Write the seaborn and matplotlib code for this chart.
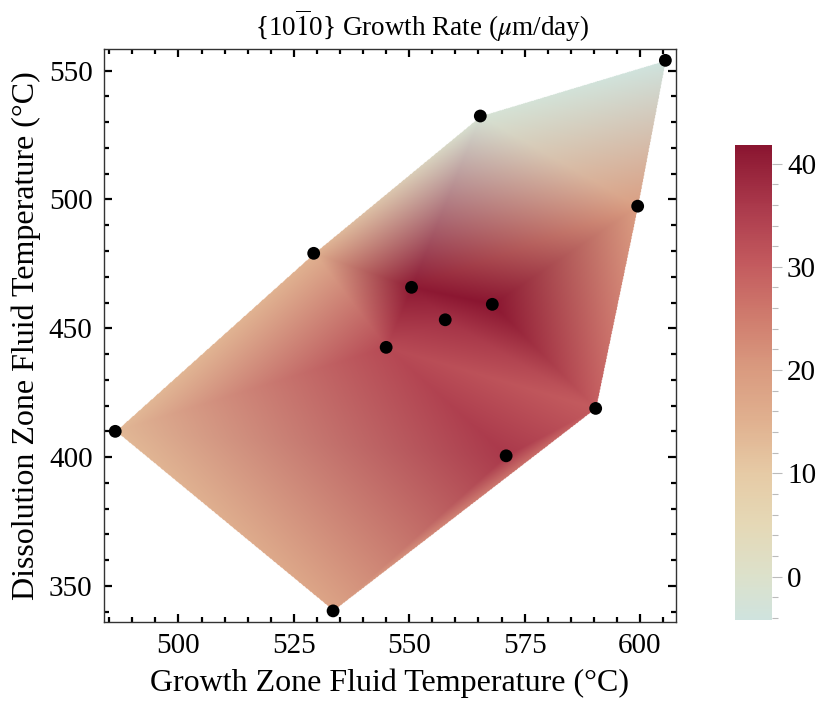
import numpy as np
import matplotlib
matplotlib.use("Agg")
import matplotlib.pyplot as plt
import matplotlib.tri as mtri
from matplotlib.colors import LinearSegmentedColormap, Normalize
from matplotlib.cm import ScalarMappable
from matplotlib.ticker import MultipleLocator
import seaborn as sns

# Measured runs: growth-zone T, dissolution-zone T (°C) and growth rate (µm/day)
growth_T = [605.5, 565.4, 599.5, 529.3, 550.5, 568.0, 557.8, 545.0, 590.4, 486.3, 571.0, 533.5]
dissol_T = [554.0, 532.4, 497.4, 479.1, 465.9, 459.3, 453.3, 442.6, 418.9, 410.0, 400.5, 340.3]
rate     = [-4.2, -2.0, 19.0, 15.0, 41.0, 41.8, 37.0, 33.0, 30.0, 13.5, 36.0, 18.0]

x_ticks = [500, 525, 550, 575, 600]
y_ticks = [350, 400, 450, 500, 550]
cbar_ticks = [0, 10, 20, 30, 40]

sns.set_theme(style="ticks")
plt.rcParams["font.family"] = ["Liberation Serif", "DejaVu Serif"]
plt.rcParams["mathtext.fontset"] = "stix"
for key in ("text.color", "axes.labelcolor", "xtick.color", "ytick.color",
            "xtick.labelcolor", "ytick.labelcolor"):
    plt.rcParams[key] = "black"

tones = LinearSegmentedColormap.from_list(
    "tones",
    [(0.00, "#cfe3de"),
     (0.09, "#dce1cb"),
     (0.20, "#e5d8b6"),
     (0.31, "#e6caa5"),
     (0.42, "#e0b08f"),
     (0.53, "#d99a7f"),
     (0.64, "#cf7b6d"),
     (0.75, "#c35a5e"),
     (0.87, "#ab3a4c"),
     (1.00, "#8a1530")])
norm = Normalize(vmin=min(rate), vmax=max(rate))

fig = plt.figure(figsize=(8.27, 7.09), dpi=100)
ax = fig.add_axes([0.1254, 0.1231, 0.8174 - 0.1254, 0.9305 - 0.1231])
cax = fig.add_axes([0.8888, 0.1255, 0.0444, 0.670])

xlim = (483.8, 607.8)
ylim = (336.1, 558.3)

# Triangulated surface, vertex colours blended linearly inside each triangle
gx = np.asarray(growth_T)
gy = np.asarray(dissol_T)
tri = mtri.Triangulation(gx, gy)
vert_rgb = tones(norm(np.asarray(rate)))[:, :3]
nx, ny = 900, 900
X, Y = np.meshgrid(np.linspace(*xlim, nx), np.linspace(*ylim, ny))
img = np.ones((ny, nx, 4))
mask = None
for c in range(3):
    field = mtri.LinearTriInterpolator(tri, vert_rgb[:, c])(X, Y)
    mask = np.ma.getmaskarray(field)
    img[..., c] = np.clip(field.filled(1.0), 0, 1)
img[..., 3] = np.where(mask, 0.0, 1.0)
ax.imshow(img, origin="lower", extent=(*xlim, *ylim), aspect="auto",
          interpolation="bilinear", zorder=1)

df_pts = {"growth": growth_T, "dissol": dissol_T}
sns.scatterplot(x="growth", y="dissol", data=df_pts, ax=ax, color="black",
                s=85, edgecolor="none", zorder=3, legend=False)

ax.set_xlim(*xlim)
ax.set_ylim(*ylim)
ax.set_xticks(x_ticks)
ax.set_yticks(y_ticks)
ax.xaxis.set_minor_locator(MultipleLocator(5))
ax.yaxis.set_minor_locator(MultipleLocator(10))
ax.tick_params(which="both", direction="in", top=True, right=True,
               color="black", labelsize=21, pad=8)
ax.tick_params(which="major", length=6, width=1.6)
ax.tick_params(which="minor", length=3.5, width=1.6)
for sp in ax.spines.values():
    sp.set_linewidth(1.0)
    sp.set_color("#333333")

ax.set_xlabel("Growth Zone Fluid Temperature (°C)", fontsize=23, labelpad=7)
ax.set_ylabel("Dissolution Zone Fluid Temperature (°C)", fontsize=23, labelpad=6)
fig.suptitle(r"{10$\overline{1}$0} Growth Rate ($\mu$m/day)", x=0.51, y=0.99,
             fontsize=19.5)

sm = ScalarMappable(norm=norm, cmap=tones)
cb = fig.colorbar(sm, cax=cax, ticks=cbar_ticks)
cb.outline.set_visible(False)
cb.ax.yaxis.set_minor_locator(MultipleLocator(2))
cb.ax.tick_params(which="both", direction="out", color="#bbbbbb", labelsize=21,
                  pad=4)
cb.ax.tick_params(which="major", length=7, width=0.8)
cb.ax.tick_params(which="minor", length=4, width=0.8)

fig.savefig("out.png", dpi=100)
